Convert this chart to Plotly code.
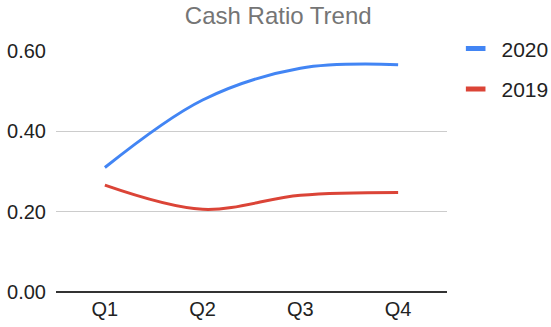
import plotly.graph_objects as go

# dados
quarters = ['Q1', 'Q2', 'Q3', 'Q4']
ratio_2020 = [0.31, 0.478, 0.557, 0.566]
ratio_2019 = [0.266, 0.206, 0.241, 0.248]
y_ticks = [0.0, 0.2, 0.4, 0.6]

COLORS = {
    '2020': '#4285f4',
    '2019': '#db4437',
    'grid': '#cccccc',
    'axis': '#333333',
    'text': '#222222',
    'title': '#757575',
}

FONT = 'Arial, "Liberation Sans", sans-serif'

fig = go.Figure()

for name, values in [('2020', ratio_2020), ('2019', ratio_2019)]:
    fig.add_trace(go.Scatter(
        x=quarters, y=values, mode='lines', name=name, legendgroup=name,
        line=dict(color=COLORS[name], width=3, shape='spline', smoothing=1.0),
        showlegend=False,
    ))
    # entrada de legenda curta (barra grossa)
    fig.add_trace(go.Scatter(
        x=[None], y=[None], mode='markers', name=' ' + name, legendgroup=name,
        marker=dict(symbol='line-ew-open', size=14, color=COLORS[name],
                    line=dict(color=COLORS[name], width=6)),
    ))

fig.update_layout(
    width=551, height=327,
    paper_bgcolor='white', plot_bgcolor='white',
    font=dict(family=FONT, size=20, color=COLORS['text']),
    title=dict(text='Cash Ratio Trend', x=0.505, xanchor='center', y=0.953,
               yanchor='middle', font=dict(family=FONT, size=24, color=COLORS['title'])),
    margin=dict(l=56, r=104, t=51, b=35),
    legend=dict(xref='container', yref='container', x=0.827, xanchor='left',
                y=0.913, yanchor='top',
                font=dict(family=FONT, size=21, color=COLORS['text']),
                tracegroupgap=10, itemwidth=30),
    xaxis=dict(range=[-0.5, 3.5], showgrid=False, showline=False, automargin=False,
               ticks='', tickfont=dict(size=20), ticklabelstandoff=3),
    yaxis=dict(range=[0, 0.6], tickvals=y_ticks, tickformat='.2f', automargin=False,
               showgrid=True, gridcolor=COLORS['grid'], gridwidth=1,
               zeroline=True, zerolinecolor=COLORS['axis'], zerolinewidth=1.5,
               showline=False, ticks='', ticklen=0, tickfont=dict(size=20),
               ticklabelstandoff=9),
)

# sem margem do body, para o gráfico ocupar a janela inteira
fig.write_html('out.html', config={'displayModeBar': False},
               post_script="document.body.style.margin='0';")
